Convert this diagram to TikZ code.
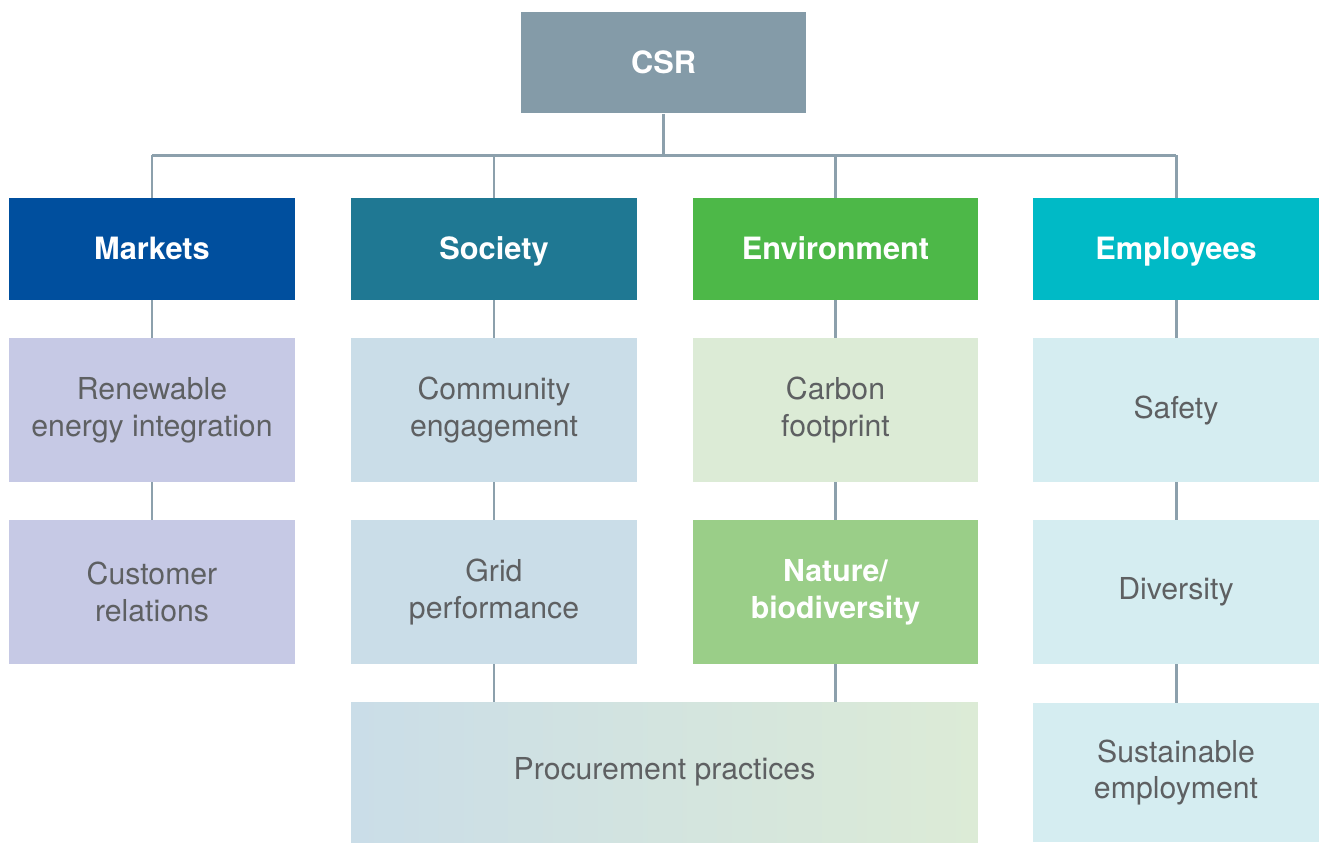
\documentclass[tikz,border=0pt]{standalone}
\usepackage{fontspec}
\setmainfont{TeX Gyre Heros}
\usetikzlibrary{calc}

\definecolor{csrgray}{HTML}{849BA8}
\definecolor{marketsblue}{HTML}{004F9E}
\definecolor{societyteal}{HTML}{1F7893}
\definecolor{envgreen}{HTML}{4DB848}
\definecolor{empcyan}{HTML}{00BAC6}
\definecolor{marketslight}{HTML}{C6C9E5}
\definecolor{societylight}{HTML}{CADDE8}
\definecolor{envlight}{HTML}{DCEBD6}
\definecolor{naturegreen}{HTML}{9ACE88}
\definecolor{emplight}{HTML}{D5EDF1}
\definecolor{linegray}{HTML}{8CA0AC}
\definecolor{textgray}{HTML}{5E6062}

\begin{document}
\begin{tikzpicture}[x=0.02cm,y=-0.02cm,
  box/.style={minimum width=5.72cm, minimum height=2.04cm, inner sep=0pt, align=center},
  head/.style={box, text=white, text height=16pt, text depth=3.5pt, font=\fontsize{17.5}{21}\selectfont\bfseries},
  sub/.style={box, minimum height=2.88cm, text=textgray, font=\fontsize{17.2}{21}\selectfont},
  link/.style={draw=linegray, line width=1.7pt}]

\useasboundingbox (0,0) rectangle (1322,843);

\pgfmathsetmacro{\colA}{152}
\pgfmathsetmacro{\colB}{494}
\pgfmathsetmacro{\colC}{835.5}
\pgfmathsetmacro{\colD}{1176}

% top and headers
\node[head, fill=csrgray, minimum width=5.7cm] (csr) at (663.5,62.5) {CSR};
\node[head, fill=marketsblue] (markets) at (\colA,249) {Markets};
\node[head, fill=societyteal] (society) at (\colB,249) {Society};
\node[head, fill=envgreen] (environment) at (\colC,249) {Environment};
\node[head, fill=empcyan] (employees) at (\colD,249) {Employees};

% second row
\node[sub, fill=marketslight] (renew) at (\colA,410) {Renewable\\energy integration};
\node[sub, fill=societylight] (community) at (\colB,410) {Community\\engagement};
\node[sub, fill=envlight] (carbon) at (\colC,410) {Carbon\\footprint};
\node[sub, fill=emplight] (safety) at (\colD,410) {Safety};

% third row
\node[sub, fill=marketslight] (customer) at (\colA,592) {Customer\\relations};
\node[sub, fill=societylight] (grid) at (\colB,592) {Grid\\performance};
\node[sub, fill=naturegreen, text=white, font=\fontsize{17.2}{21}\selectfont\bfseries] (nature) at (\colC,592) {Nature/\\biodiversity};
\node[sub, fill=emplight] (diversity) at (\colD,592) {Diversity};

% fourth row
\node[sub, minimum width=12.54cm, minimum height=2.8cm, left color=societylight, right color=envlight] (procure) at (664.5,772) {Procurement practices};
\node[sub, fill=emplight, minimum height=2.78cm] (sustain) at (\colD,772.5) {Sustainable\\employment};

% connectors
\coordinate (bus) at (663.5,155);
\draw[link] (csr) -- (bus);
\draw[link] (markets.north |- bus) -- (employees.north |- bus);
\foreach \n in {markets,society,environment,employees}
  \draw[link] (\n.north |- bus) -- (\n);
\draw[link] (markets) -- (renew);
\draw[link] (renew) -- (customer);
\draw[link] (society) -- (community);
\draw[link] (community) -- (grid);
\draw[link] (environment) -- (carbon);
\draw[link] (carbon) -- (nature);
\draw[link] (employees) -- (safety);
\draw[link] (safety) -- (diversity);
\draw[link] (diversity) -- (sustain);
\draw[link] (grid.south) -- (grid.south |- procure.north);
\draw[link] (nature.south) -- (nature.south |- procure.north);

\end{tikzpicture}
\end{document}
